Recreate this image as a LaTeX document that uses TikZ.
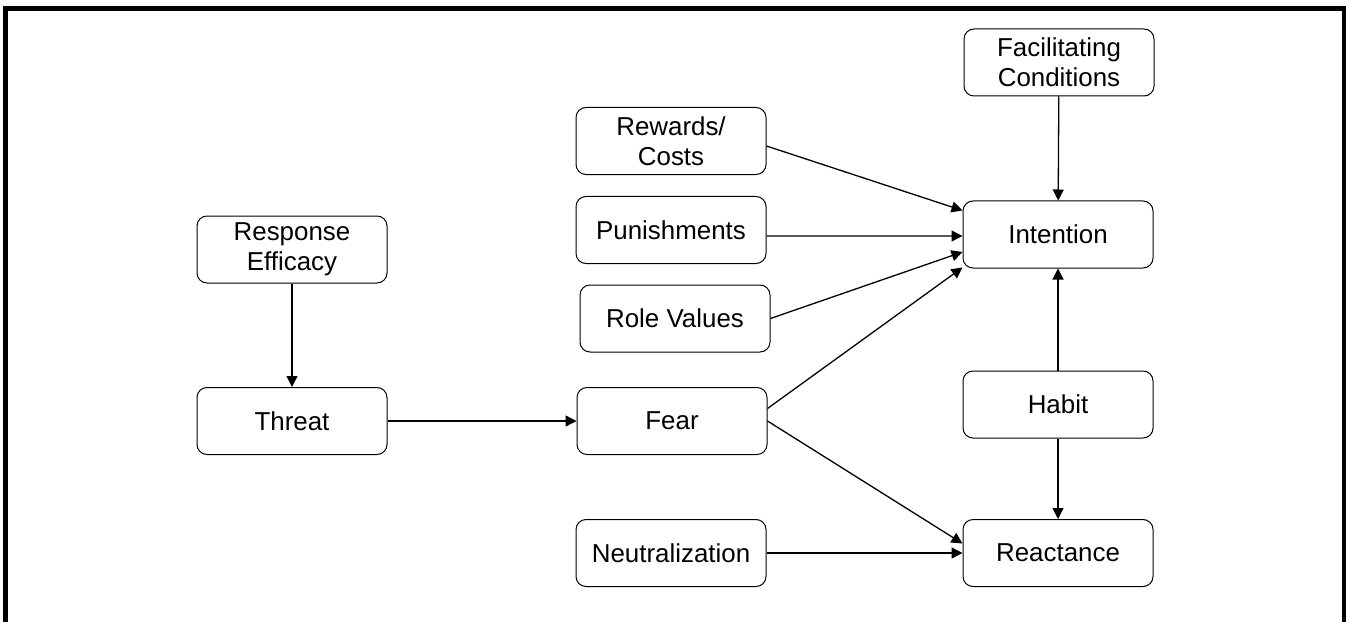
\documentclass[tikz,border=0pt]{standalone}
\usepackage{fontspec}
\setmainfont{Liberation Sans}
\usetikzlibrary{arrows.meta}

\begin{document}
\begin{tikzpicture}[x=1bp,y=-1bp]
  \useasboundingbox (0,0) rectangle (1346,622);

  % Define a style for boxes and arrows
  \tikzset{
    mybox/.style={draw, black, line width=1bp, text=black, rounded corners=10bp,
      minimum width=190bp, minimum height=67bp, inner sep=0pt,
      align=center, font=\fontsize{26}{30}\selectfont},
    myarrow/.style={-{Triangle[length=11bp,width=11bp]}, line width=1.3bp, black}
  }

  % Frame
  \draw[line width=5bp] (5.5,622) -- (5.5,9) -- (1344,9) -- (1344,622);

  % Boxes
  \node[mybox] (fc)    at (1059,62.5)  {Facilitating\\Conditions};
  \node[mybox] (rc)    at (671,141)    {Rewards/\\Costs};
  \node[mybox] (pun)   at (671,230)    {Punishments};
  \node[mybox] (int)   at (1058,234.5) {Intention};
  \node[mybox] (rv)    at (675,318.5)  {Role Values};
  \node[mybox] (re)    at (292,249.5)  {Response\\Efficacy};
  \node[mybox] (hab)   at (1058,404.5) {Habit};
  \node[mybox] (th)    at (292,421)    {Threat};
  \node[mybox] (fear)  at (672,421)    {Fear};
  \node[mybox] (neu)   at (671,553)    {Neutralization};
  \node[mybox] (react) at (1058,553)   {Reactance};

  % Arrows
  \draw[myarrow] (re) -- (th);
  \draw[myarrow] (th) -- (fear);
  \draw[myarrow] (fc) -- (int);
  \draw[myarrow] ([yshift=-5bp]rc.east) -- ([yshift=24bp]int.west);
  \draw[myarrow] ([yshift=-6bp]pun.east) -- ([yshift=-1.5bp]int.west);
  \draw[myarrow] (rv.east) -- ([yshift=-17.5bp]int.west);
  \draw[myarrow] ([yshift=12.5bp]fear.east) -- ([yshift=-33bp]int.west);
  \draw[myarrow] (fear.east) -- ([yshift=9.5bp]react.west);
  \draw[myarrow] (neu) -- (react);
  \draw[myarrow] (hab) -- (int);
  \draw[myarrow] (hab) -- (react);

\end{tikzpicture}
\end{document}
